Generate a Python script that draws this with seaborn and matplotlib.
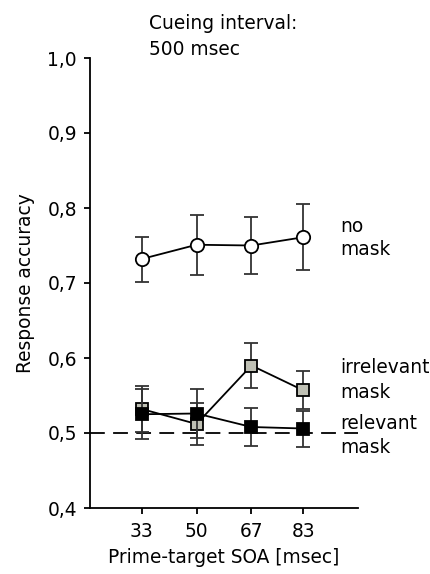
import numpy as np
import pandas as pd
import seaborn as sns
import matplotlib
matplotlib.use("Agg")
import matplotlib.pyplot as plt

# Prime-target SOA (msec)
soa = [33, 50, 67, 83]
soa_labels = ["33", "50", "67", "83"]

# Mean response accuracy and error bars per masking condition
no_mask = [0.732, 0.751, 0.750, 0.761]
no_mask_err = [0.030, 0.040, 0.038, 0.044]

irrelevant_mask = [0.532, 0.512, 0.590, 0.557]
irrelevant_mask_err = [0.031, 0.028, 0.030, 0.025]

relevant_mask = [0.525, 0.526, 0.508, 0.506]
relevant_mask_err = [0.033, 0.032, 0.025, 0.024]

y_ticks = [0.4, 0.5, 0.6, 0.7, 0.8, 0.9, 1.0]
y_tick_labels = ["0,4", "0,5", "0,6", "0,7", "0,8", "0,9", "1,0"]
chance = 0.5

sns.set_theme(style="ticks")
plt.rcParams["font.family"] = ["DejaVu Sans"]
FS = 13.4

W, H = 430, 574
fig = plt.figure(figsize=(W / 100, H / 100), dpi=100)
ax = fig.add_axes([90 / W, 1 - 508 / H, 268 / W, 450 / H])

LW = 1.3
ERR_COLOR = "#333333"
GRAY = "#bfc0b4"

# chance level
ax.axhline(chance, color="black", lw=LW, linestyle=(0, (8.2, 4.6)), zorder=1)

series = [
    (no_mask, no_mask_err, "o", "white", 9.6),
    (irrelevant_mask, irrelevant_mask_err, "s", GRAY, 9.0),
    (relevant_mask, relevant_mask_err, "s", "black", 9.0),
]

z = 2
for vals, errs, marker, face, ms in series:
    ax.errorbar(soa, vals, yerr=errs, fmt="none", ecolor=ERR_COLOR,
                elinewidth=LW, capsize=5, capthick=LW, zorder=z)
    sns.lineplot(x=soa, y=vals, ax=ax, color="black", lw=LW, marker=marker,
                 markersize=ms, markerfacecolor=face, markeredgecolor="black",
                 markeredgewidth=LW, errorbar=None, zorder=z + 1)
    z += 2

ax.set_xlim(17, 100)
ax.set_ylim(0.4, 1.0)
ax.set_xticks(soa)
ax.set_xticklabels(soa_labels, fontsize=FS)
ax.set_yticks(y_ticks)
ax.set_yticklabels(y_tick_labels, fontsize=FS)

ax.tick_params(direction="out", length=4.3, width=LW, color="black",
               labelcolor="black")
ax.tick_params(axis="y", pad=5.0)
ax.tick_params(axis="x", pad=6)

for side in ("top", "right"):
    ax.spines[side].set_visible(False)
for side in ("left", "bottom"):
    ax.spines[side].set_linewidth(LW)
    ax.spines[side].set_color("black")

ax.set_xlabel("Prime-target SOA [msec]", fontsize=FS, color="black")
ax.set_ylabel("Response accuracy", fontsize=FS, color="black")
ax.xaxis.set_label_coords(0.5, -0.088)
ax.yaxis.set_label_coords(-0.205, 0.5)


def put(text, x_px, base_px):
    fig.text(x_px / W, 1 - base_px / H, text, fontsize=FS, color="black",
             ha="left", va="baseline")


put("Cueing interval:", 149, 29)
put("500 msec", 149, 55)
put("no", 340, 232)
put("mask", 340, 255)
put("irrelevant", 340, 373)
put("mask", 340, 398)
put("relevant", 340, 429)
put("mask", 340, 453)

fig.savefig("out.png", dpi=100)
